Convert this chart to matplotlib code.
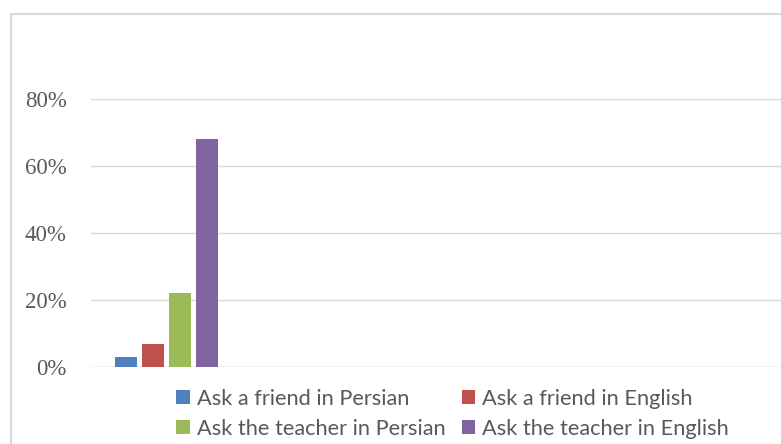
import matplotlib
matplotlib.use("Agg")
import matplotlib.pyplot as plt
from matplotlib.patches import Rectangle
from matplotlib.ticker import FuncFormatter

series = ["Ask a friend in Persian", "Ask a friend in English",
          "Ask the teacher in Persian", "Ask the teacher in English"]
values = [0.03, 0.07, 0.22, 0.68]
colors = ["#4f81bd", "#c0504d", "#9bbb59", "#8064a2"]
yticks = [0, 0.2, 0.4, 0.6, 0.8]

W, H = 781, 444
fig = plt.figure(figsize=(W / 100, H / 100), dpi=100)

# outer chart border (clipped at right/bottom)
fig.patches.append(Rectangle((11 / W, -0.1), 2, 1 - 14 / H + 0.1, transform=fig.transFigure,
                             fill=False, edgecolor="#d9d9d9", linewidth=1.5))

left, right = 91, 781
bottom, top = 367, 99
ax = fig.add_axes([left / W, 1 - bottom / H, (right - left) / W, (bottom - top) / H])

offsets = [-1.5, -0.5, 0.5, 1.5]
handles = []
for off, v, c, s in zip(offsets, values, colors, series):
    handles.append(ax.bar(off, v, width=0.815, color=c, label=s, zorder=3))

ax.set_xlim(-2.78, 22.78)
ax.set_ylim(0, 0.8)
ax.set_yticks(yticks)
ax.yaxis.set_major_formatter(FuncFormatter(lambda v, p: f"{int(round(v * 100))}%"))
ax.set_xticks([])
ax.grid(axis="y", color="#d9d9d9", linewidth=1, zorder=0)
for sp in ax.spines.values():
    sp.set_visible(False)
ax.tick_params(axis="y", length=0, pad=17.5, labelsize=16.5, labelcolor="#595959")
for lab in ax.get_yticklabels():
    lab.set_fontfamily("Liberation Serif")
ax.axhline(0, color="#d9d9d9", linewidth=1, zorder=2)

order = [0, 2, 1, 3]
leg = fig.legend([handles[i] for i in order], [series[i] for i in order],
                 loc="upper left", bbox_to_anchor=(176 / W, 1 - 389 / H), ncol=2,
                 frameon=False, prop={"family": "Lato", "size": 15.7},
                 handlelength=0.62, handleheight=0.62, handletextpad=0.33,
                 columnspacing=0.75, labelspacing=0.45, borderpad=0, borderaxespad=0)
for t in leg.get_texts():
    t.set_color("#595959")

fig.savefig("out.png", dpi=100)
